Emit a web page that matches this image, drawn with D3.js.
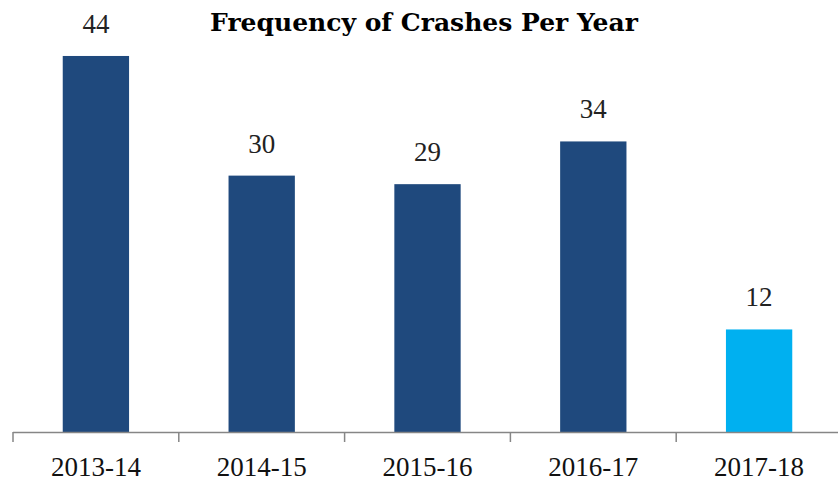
<!DOCTYPE html>
<html>
<head>
<meta charset="utf-8">
<script src="https://cdn.jsdelivr.net/npm/d3@7"></script>
<style>
  body { margin: 0; background: #fff; }
  text { font-family: "Liberation Serif", "DejaVu Serif", serif; }
</style>
</head>
<body>
<script>
const years = ['2013-14', '2014-15', '2015-16', '2016-17', '2017-18'];
const crashes = [44, 30, 29, 34, 12];
const barColors = ['#1F497D', '#1F497D', '#1F497D', '#1F497D', '#00B0F0'];

const width = 838, height = 482;

const svg = d3.select('body').append('svg')
    .attr('width', width)
    .attr('height', height);

const x = d3.scaleBand()
    .domain(years)
    .range([13, 842])
    .paddingInner(0.6)
    .paddingOuter(0.3);

const y = d3.scaleLinear()
    .domain([0, 50])
    .range([432, 4.7]);

// title
svg.append('text')
    .attr('x', 424)
    .attr('y', 31)
    .attr('text-anchor', 'middle')
    .style('font-family', '"DejaVu Serif", serif')
    .style('font-size', '25px')
    .style('font-weight', 'bold')
    .text('Frequency of Crashes Per Year');

svg.selectAll('rect.bar')
    .data(crashes)
    .enter().append('rect')
    .attr('class', 'bar')
    .attr('x', (d, i) => x(years[i]))
    .attr('y', d => y(d))
    .attr('width', x.bandwidth())
    .attr('height', d => y(0) - y(d))
    .attr('fill', (d, i) => barColors[i]);

svg.selectAll('text.val')
    .data(crashes)
    .enter().append('text')
    .attr('class', 'val')
    .attr('x', (d, i) => x(years[i]) + x.bandwidth() / 2)
    .attr('y', d => y(d) - 23)
    .attr('text-anchor', 'middle')
    .style('font-size', '27px')
    .style('fill', '#222')
    .text(d => d);

// x axis line with ticks between categories
const axis = svg.append('g');
axis.append('line')
    .attr('x1', 13).attr('x2', 842)
    .attr('y1', 432.5).attr('y2', 432.5)
    .attr('stroke', '#868686').attr('stroke-width', 1.5);

const step = x.step();
axis.selectAll('line.tick')
    .data(d3.range(years.length + 1))
    .enter().append('line')
    .attr('class', 'tick')
    .attr('x1', i => 13 + i * step).attr('x2', i => 13 + i * step)
    .attr('y1', 432).attr('y2', 442)
    .attr('stroke', '#868686').attr('stroke-width', 1.5);

axis.selectAll('text.lab')
    .data(years)
    .enter().append('text')
    .attr('class', 'lab')
    .attr('x', d => x(d) + x.bandwidth() / 2)
    .attr('y', 476)
    .attr('text-anchor', 'middle')
    .style('font-size', '27px')
    .style('fill', '#111')
    .text(d => d);
</script>
</body>
</html>
